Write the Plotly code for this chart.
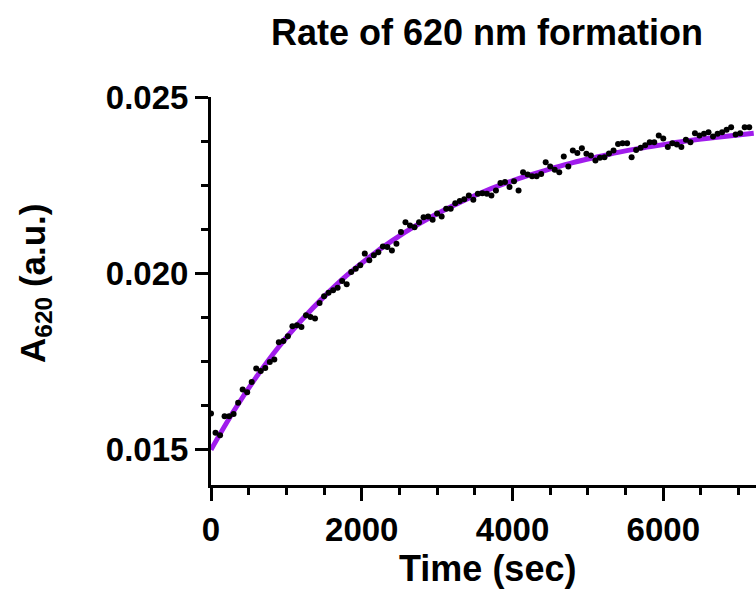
import plotly.graph_objects as go

# Measured absorbance at 620 nm, sampled every 60 s
time_sec = list(range(0, 7200, 60))
a620 = [
    0.01603, 0.01548, 0.01541, 0.01595, 0.01595, 0.01601, 0.01633, 0.01671, 0.01663, 0.01692,
    0.01730, 0.01723, 0.01732, 0.01749, 0.01756, 0.01805, 0.01808, 0.01822, 0.01850, 0.01853,
    0.01848, 0.01881, 0.01876, 0.01872, 0.01916, 0.01935, 0.01945, 0.01952, 0.01959, 0.01978,
    0.01969, 0.02004, 0.02013, 0.02023, 0.02056, 0.02037, 0.02051, 0.02060, 0.02076, 0.02075,
    0.02065, 0.02084, 0.02117, 0.02145, 0.02136, 0.02131, 0.02145, 0.02159, 0.02161, 0.02152,
    0.02170, 0.02161, 0.02183, 0.02183, 0.02199, 0.02205, 0.02210, 0.02221, 0.02209, 0.02226,
    0.02227, 0.02226, 0.02221, 0.02235, 0.02256, 0.02259, 0.02245, 0.02261, 0.02235, 0.02287,
    0.02280, 0.02275, 0.02275, 0.02282, 0.02315, 0.02303, 0.02294, 0.02287, 0.02331, 0.02303,
    0.02348, 0.02341, 0.02355, 0.02339, 0.02334, 0.02320, 0.02328, 0.02329, 0.02340, 0.02348,
    0.02367, 0.02369, 0.02369, 0.02329, 0.02350, 0.02356, 0.02363, 0.02372, 0.02372, 0.02391,
    0.02382, 0.02358, 0.02369, 0.02365, 0.02358, 0.02379, 0.02372, 0.02397, 0.02391, 0.02396,
    0.02400, 0.02388, 0.02396, 0.02400, 0.02407, 0.02414, 0.02394, 0.02397, 0.02414, 0.02414,
]

# Fitted curve
fit_time = [0, 300, 600, 900, 1200, 1500, 1800, 2100, 2400, 2700, 3000, 3300, 3600,
            3900, 4200, 4500, 4800, 5100, 5400, 5700, 6000, 6300, 6600, 6900, 7200]
fit_a620 = [0.01500, 0.01609, 0.01706, 0.01792, 0.01867, 0.01934, 0.01994, 0.02046,
            0.02092, 0.02133, 0.02169, 0.02201, 0.02230, 0.02255, 0.02277, 0.02296,
            0.02314, 0.02329, 0.02343, 0.02355, 0.02365, 0.02375, 0.02383, 0.02390, 0.02397]

y_tickvals = [0.015, 0.020, 0.025]
y_ticktext = ["0.015", "0.020", "0.025"]
x_tickvals = [0, 2000, 4000, 6000]
x_ticktext = ["0", "2000", "4000", "6000"]

FONT = "Liberation Sans, Arial, sans-serif"

fig = go.Figure()
fig.add_trace(go.Scatter(
    x=fit_time, y=fit_a620, mode="lines",
    line=dict(color="#A01CEC", width=5, shape="spline"),
    hoverinfo="skip", showlegend=False,
))
fig.add_trace(go.Scatter(
    x=time_sec, y=a620, mode="markers",
    marker=dict(color="black", size=6),
    showlegend=False,
))

axis_common = dict(
    showline=True, linecolor="black", linewidth=3,
    ticks="outside", ticklen=13, tickwidth=2.5, tickcolor="black",
    showgrid=False, zeroline=False,
    tickfont=dict(family=FONT, size=33, color="black", weight="bold"),
)

fig.update_xaxes(
    range=[0, 7230], tickmode="array", tickvals=x_tickvals, ticktext=x_ticktext,
    minor=dict(dtick=500, tick0=0, ticks="outside", ticklen=7, tickwidth=2.5, tickcolor="black"),
    **axis_common,
)
fig.update_yaxes(
    range=[0.014, 0.025], tickmode="array", tickvals=y_tickvals, ticktext=y_ticktext,
    minor=dict(dtick=0.00125, tick0=0.015, ticks="outside", ticklen=7, tickwidth=2.5, tickcolor="black"),
    **axis_common,
)

fig.update_layout(
    width=756, height=595,
    margin=dict(l=211, r=0, t=97, b=110, pad=0),
    plot_bgcolor="white", paper_bgcolor="white",
    title=dict(text="<b>Rate of 620 nm formation</b>", x=487 / 756, xanchor="center",
               y=1 - 32 / 595, yanchor="middle",
               font=dict(family=FONT, size=36, color="black")),
    annotations=[
        dict(text="<b>Time (sec)</b>", xref="paper", yref="paper",
             x=(487 - 211) / 545, y=-(568 - 485) / 388, xanchor="center", yanchor="middle",
             showarrow=False, font=dict(family=FONT, size=36, color="black")),
        dict(text="<b>A<sub>620</sub> (a.u.)</b>", xref="paper", yref="paper",
             x=-(211 - 35) / 545, y=(485 - 283) / 388, xanchor="center", yanchor="middle",
             textangle=-90, showarrow=False, font=dict(family=FONT, size=35, color="black")),
    ],
)

fig.write_html("out.html")
